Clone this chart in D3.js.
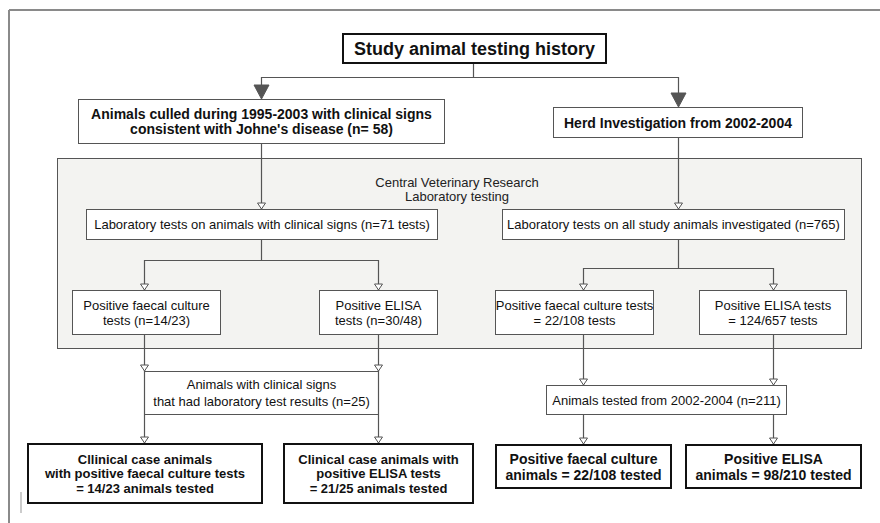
<!DOCTYPE html>
<html>
<head>
<meta charset="utf-8">
<script src="https://cdn.jsdelivr.net/npm/d3@7"></script>
<style>
  html, body { margin: 0; padding: 0; background: #fff; }
  svg { display: block; font-family: "Liberation Sans", Arial, Helvetica, sans-serif; }
</style>
</head>
<body>
<svg id="chart" width="880" height="523"></svg>
<script>
// ---- content ----
const nodeIds = ["title", "culled", "herd", "labL", "labR", "fcL", "elL", "fcR", "elR", "clinAnimals", "tested", "resL1", "resL2", "resR1", "resR2"];
const nodeLabels = [
  ["Study animal testing history"],
  ["Animals culled during 1995-2003 with clinical signs", "consistent with Johne's disease (n= 58)"],
  ["Herd Investigation from 2002-2004"],
  ["Laboratory tests on animals with clinical signs (n=71 tests)"],
  ["Laboratory tests on all study animals investigated (n=765)"],
  ["Positive faecal culture", "tests (n=14/23)"],
  ["Positive ELISA", "tests (n=30/48)"],
  ["Positive faecal culture tests", "= 22/108 tests"],
  ["Positive ELISA tests", "= 124/657 tests"],
  ["Animals with clinical signs", "that had laboratory test results (n=25)"],
  ["Animals tested from 2002-2004 (n=211)"],
  ["Cllinical case animals", "with positive faecal culture tests", "= 14/23 animals tested"],
  ["Clinical case animals with", "positive ELISA tests", "= 21/25 animals tested"],
  ["Positive faecal culture", "animals = 22/108 tested"],
  ["Positive ELISA", "animals = 98/210 tested"]
];
const panelLabel = ["Central Veterinary Research", "Laboratory  testing"];

// ---- layout (box geometry and styles) ----
const layout = {
  title:       {x: 342, y: 33,  w: 264, h: 30, style: "title"},
  culled:      {x: 78,  y: 99,  w: 366, h: 44, style: "head"},
  herd:        {x: 553, y: 107, w: 249, h: 30, style: "head"},
  labL:        {x: 86,  y: 209, w: 351, h: 30, style: "plain"},
  labR:        {x: 502, y: 209, w: 342, h: 30, style: "plain"},
  fcL:         {x: 72,  y: 290, w: 148, h: 44, style: "plain"},
  elL:         {x: 319, y: 290, w: 118, h: 44, style: "plain"},
  fcR:         {x: 495, y: 290, w: 158, h: 44, style: "plain"},
  elR:         {x: 699, y: 290, w: 147, h: 44, style: "plain"},
  clinAnimals: {x: 144, y: 371, w: 234, h: 43, style: "open"},
  tested:      {x: 546, y: 385, w: 240, h: 29, style: "plain"},
  resL1:       {x: 27,  y: 443, w: 235, h: 60, style: "resS"},
  resL2:       {x: 283, y: 443, w: 190, h: 60, style: "resS"},
  resR1:       {x: 495, y: 444, w: 176, h: 44, style: "resB"},
  resR2:       {x: 685, y: 444, w: 176, h: 44, style: "resB"}
};
const styles = {
  title: {stroke: "#111", sw: 2,   font: 18, weight: "bold",   lh: 20},
  head:  {stroke: "#555", sw: 1,   font: 14, weight: "bold",   lh: 15},
  plain: {stroke: "#555", sw: 1,   font: 13, weight: "normal", lh: 15},
  open:  {stroke: "#555", sw: 1,   font: 13, weight: "normal", lh: 17},
  resS:  {stroke: "#111", sw: 2,   font: 13, weight: "bold",   lh: 14.5},
  resB:  {stroke: "#111", sw: 2,   font: 14, weight: "bold",   lh: 16}
};

const svg = d3.select("#chart");
const gray = "#555";

// outer frame remnants
svg.append("line").attr("x1", 9).attr("y1", 10).attr("x2", 880).attr("y2", 10)
  .attr("stroke", "#8a8a8a").attr("stroke-width", 2);
svg.append("line").attr("x1", 9).attr("y1", 10).attr("x2", 9).attr("y2", 523)
  .attr("stroke", "#8a8a8a").attr("stroke-width", 2);
svg.append("line").attr("x1", 21).attr("y1", 492).attr("x2", 21).attr("y2", 513)
  .attr("stroke", "#999").attr("stroke-width", 1);

// lab panel
const panel = {x: 57, y: 158, w: 804, h: 190};
svg.append("rect").attr("x", panel.x + 0.5).attr("y", panel.y + 0.5)
  .attr("width", panel.w).attr("height", panel.h)
  .attr("fill", "#f3f3f1").attr("stroke", gray).attr("stroke-width", 1);
svg.append("text").attr("text-anchor", "middle").attr("font-size", 13).attr("fill", "#222")
  .selectAll("tspan").data(panelLabel).join("tspan")
  .attr("x", 457).attr("y", (d, i) => 186.5 + i * 14).text(d => d);

// connectors
const lineG = svg.append("g").attr("stroke", gray).attr("stroke-width", 1.2).attr("fill", "none");
function seg(pts) {
  lineG.append("path").attr("d", d3.line()(pts));
}
const sx = v => v + 0.5;
seg([[sx(473), 63], [sx(473), 77.5], [sx(261), 77.5], [sx(261), 86]]);
seg([[sx(473), 77.5], [sx(678), 77.5], [sx(678), 93]]);
seg([[sx(261), 143], [sx(261), 209]]);
seg([[sx(678), 137], [sx(678), 209]]);
seg([[sx(261), 239], [sx(261), 260.5]]);
seg([[sx(144), 290], [sx(144), 260.5], [sx(378), 260.5], [sx(378), 290]]);
seg([[sx(678), 239], [sx(678), 268.5]]);
seg([[sx(583), 290], [sx(583), 268.5], [sx(773), 268.5], [sx(773), 290]]);
seg([[sx(144), 334], [sx(144), 443]]);
seg([[sx(378), 334], [sx(378), 443]]);
seg([[sx(583), 334], [sx(583), 385]]);
seg([[sx(773), 334], [sx(773), 385]]);
seg([[sx(583), 414], [sx(583), 444]]);
seg([[sx(773), 414], [sx(773), 444]]);

// arrow heads
function bigArrow(x, yTip) {
  svg.append("path").attr("d", `M${x - 7.5},${yTip - 14}L${x + 7.5},${yTip - 14}L${x},${yTip}Z`)
    .attr("fill", "#555").attr("stroke", "#555").attr("stroke-width", 1);
}
function smallArrow(x, yTip) {
  svg.append("path").attr("d", `M${x - 4},${yTip - 6}L${x + 4},${yTip - 6}L${x},${yTip}Z`)
    .attr("fill", "#fff").attr("stroke", "#555").attr("stroke-width", 1);
}
bigArrow(sx(261), 99);
bigArrow(sx(678), 107);
[[261, 209], [678, 209], [144, 290], [378, 290], [583, 290], [773, 290],
 [144, 371], [378, 371], [144, 443], [378, 443], [583, 385], [773, 385], [583, 444], [773, 444]]
  .forEach(([x, y]) => smallArrow(sx(x), y));

// boxes
nodeIds.forEach((id, i) => {
  const b = layout[id], st = styles[b.style];
  const g = svg.append("g");
  if (b.style === "open") {
    g.append("line").attr("x1", b.x).attr("x2", b.x + b.w + 1).attr("y1", b.y + 0.5).attr("y2", b.y + 0.5)
      .attr("stroke", gray).attr("stroke-width", 1.2);
    g.append("line").attr("x1", b.x).attr("x2", b.x + b.w + 1).attr("y1", b.y + b.h + 0.5).attr("y2", b.y + b.h + 0.5)
      .attr("stroke", gray).attr("stroke-width", 1.2);
  } else {
    const off = st.sw === 2 ? 1 : 0.5;
    g.append("rect").attr("x", b.x + off).attr("y", b.y + off)
      .attr("width", b.w - (st.sw === 2 ? 1 : 0)).attr("height", b.h - (st.sw === 2 ? 1 : 0))
      .attr("fill", "#fff").attr("stroke", st.stroke).attr("stroke-width", st.sw);
  }
  const lines = nodeLabels[i];
  const cx = b.x + b.w / 2 + 0.5, cy = b.y + b.h / 2 + 0.5;
  const y0 = cy - (lines.length - 1) * st.lh / 2;
  g.append("text").attr("text-anchor", "middle").attr("font-size", st.font)
    .attr("font-weight", st.weight).attr("fill", "#111")
    .selectAll("tspan").data(lines).join("tspan")
    .attr("x", cx).attr("y", (d, k) => y0 + k * st.lh)
    .attr("dy", "0.36em").text(d => d);
});
</script>
</body>
</html>
